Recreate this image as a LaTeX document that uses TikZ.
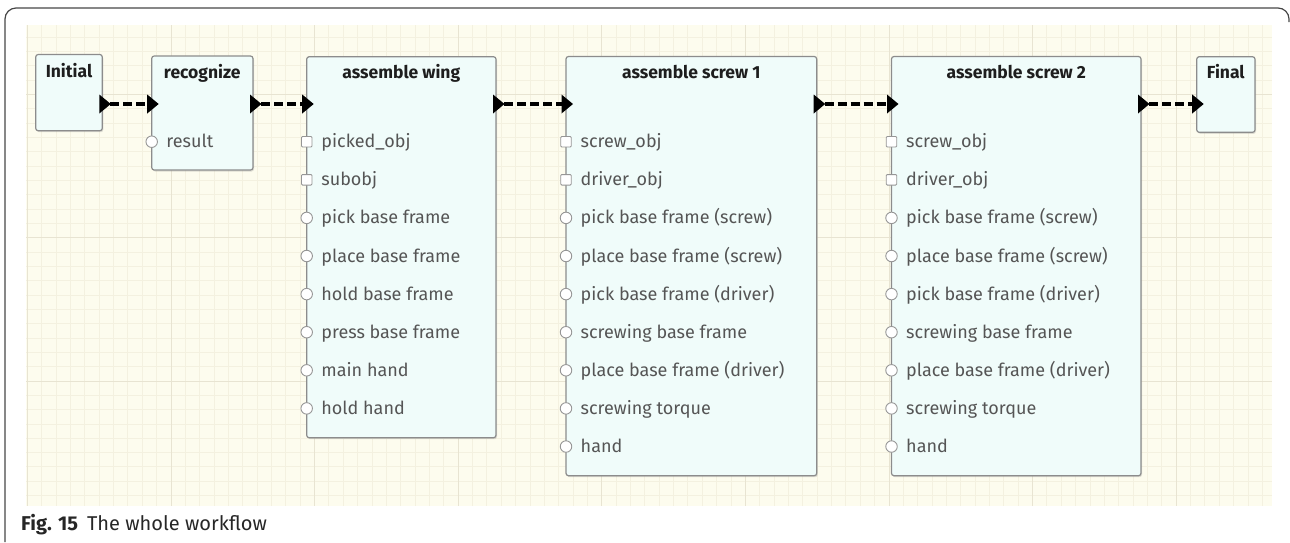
\documentclass[tikz,border=0pt]{standalone}
\usepackage{fontspec}
\setmainfont{Fira Sans}
\usetikzlibrary{shadows}

\definecolor{gridbg}{RGB}{253,252,238}
\definecolor{gridminor}{RGB}{244,241,224}
\definecolor{gridmajor}{RGB}{232,228,210}
\definecolor{boxfill}{RGB}{240,252,250}
\definecolor{boxdraw}{RGB}{140,140,140}
\definecolor{portdraw}{RGB}{150,150,150}
\definecolor{lbltext}{RGB}{85,85,85}
\definecolor{titletext}{RGB}{30,30,30}
\definecolor{frameline}{RGB}{70,70,70}

% one column of input ports on the left edge of a box:
% #1 prefix, #2 x of the edge, #3 number of square ports, #4 labels
\newcommand\portcol[4]{%
  \foreach \txt [count=\n] in {#4} {
    \pgfmathsetmacro\yy{141.7+38.1*(\n-1)}
    \ifnum\n>#3
      \node[cport] (#1-p\n) at (#2,\yy) {};
    \else
      \node[sport] (#1-p\n) at (#2,\yy) {};
    \fi
    \node[lbl] (#1-l\n) at (#2+14.5,\yy+6) {\txt};
  }
}

% execution link: output triangle, input triangle, dashed line
\newcommand\execlink[2]{%
  \fill[black] (#1) ++(-3,-9.5) -- ++(11.5,9.5) -- ++(-11.5,9.5) -- cycle;
  \fill[black] (#2) ++(-4.5,-9.5) -- ++(11.5,9.5) -- ++(-11.5,9.5) -- cycle;
  \draw[execline] ([xshift=8pt]#1) -- ([xshift=-4.5pt]#2);
}

\begin{document}
\begin{tikzpicture}[x=1pt,y=-1pt,
  wfbox/.style={draw=boxdraw, fill=boxfill, line width=1.2pt,
    rounded corners=2.5pt, inner sep=0pt, outer sep=0pt, anchor=north west,
    drop shadow={shadow xshift=1pt, shadow yshift=-1.5pt, opacity=0.25}},
  sport/.style={rectangle, draw=portdraw, fill=white, line width=0.9pt,
    minimum size=10.5pt, inner sep=0pt, rounded corners=1pt},
  cport/.style={circle, draw=portdraw, fill=white, line width=0.9pt,
    minimum size=11.5pt, inner sep=0pt},
  lbl/.style={anchor=base west, inner sep=0pt, text=lbltext,
    font=\fontsize{18}{21}\selectfont},
  boxtitle/.style={anchor=base, inner sep=0pt, text=titletext,
    font=\fontsize{17.5}{21}\selectfont\bfseries},
  execline/.style={line width=3.3pt, dash pattern=on 9pt off 4pt, black},
]
\useasboundingbox (0,0) rectangle (1290,542);

% squared paper background
\begin{scope}
  \clip (26,25) rectangle (1272,506);
  \fill[gridbg] (26,25) rectangle (1272,506);
  \foreach \i in {-1,...,87}
    \draw[gridminor, line width=1pt] ({27.4+14.36*\i},25) -- ++(0,481);
  \foreach \j in {-5,...,29}
    \draw[gridminor, line width=1pt] (26,{94.4+14.33*\j}) -- ++(1246,0);
  \foreach \i in {0,...,8}
    \draw[gridmajor, line width=1pt] ({27.4+143.6*\i},25) -- ++(0,481);
  \foreach \j in {0,1,2}
    \draw[gridmajor, line width=1pt] (26,{94.4+143.3*\j}) -- ++(1246,0);
\end{scope}

% outer frame
\draw[frameline, line width=1.2pt, rounded corners=11pt]
  (5,542) -- (5,8) -- (1289,8) -- (1289,22);

% workflow boxes
\node[wfbox, minimum width=66.6pt, minimum height=76.2pt] (initial) at (35.7,54.5) {};
\node[wfbox, minimum width=101.3pt, minimum height=114pt] (recognize) at (151.7,56) {};
\node[wfbox, minimum width=189.3pt, minimum height=381pt] (wing) at (306.7,56.7) {};
\node[wfbox, minimum width=250.7pt, minimum height=419.2pt] (screwA) at (566,56.5) {};
\node[wfbox, minimum width=249.5pt, minimum height=419.2pt] (screwB) at (891.5,56.5) {};
\node[wfbox, minimum width=58.3pt, minimum height=75.6pt] (final) at (1196.7,56.7) {};

% titles
\node[boxtitle] (initial-t) at (69,77.5) {Initial};
\node[boxtitle] (recognize-t) at (202.3,78) {recognize};
\node[boxtitle] (wing-t) at (401.3,78.5) {assemble wing};
\node[boxtitle] (screwA-t) at (691.3,78.5) {assemble screw 1};
\node[boxtitle] (screwB-t) at (1016.3,78.5) {assemble screw 2};
\node[boxtitle] (final-t) at (1225.8,78) {Final};

% input ports
\portcol{recognize}{151.7}{0}{result}
\portcol{wing}{306.7}{2}{picked\_obj, subobj, pick base frame, place base frame,
  hold base frame, press base frame, main hand, hold hand}
\portcol{screwA}{566}{2}{screw\_obj, driver\_obj, pick base frame (screw),
  place base frame (screw), pick base frame (driver), screwing base frame,
  place base frame (driver), screwing torque, hand}
\portcol{screwB}{891.5}{2}{screw\_obj, driver\_obj, pick base frame (screw),
  place base frame (screw), pick base frame (driver), screwing base frame,
  place base frame (driver), screwing torque, hand}

% execution ports
\coordinate (initial-out) at (102.3,104);
\coordinate (recognize-in) at (151.7,104);
\coordinate (recognize-out) at (253,104);
\coordinate (wing-in) at (306.7,104);
\coordinate (wing-out) at (496,104);
\coordinate (screwA-in) at (566,104);
\coordinate (screwA-out) at (816.7,104);
\coordinate (screwB-in) at (891.5,104);
\coordinate (screwB-out) at (1141,104);
\coordinate (final-in) at (1196.7,104);

\execlink{initial-out}{recognize-in}
\execlink{recognize-out}{wing-in}
\execlink{wing-out}{screwA-in}
\execlink{screwA-out}{screwB-in}
\execlink{screwB-out}{final-in}

% caption
\node[anchor=base west, inner sep=0pt, text=black!85,
  font=\fontsize{20}{24}\selectfont] (caption) at (21,530)
  {\textbf{Fig. 15}\hspace{0.45em}The whole workflow};
\end{tikzpicture}
\end{document}
